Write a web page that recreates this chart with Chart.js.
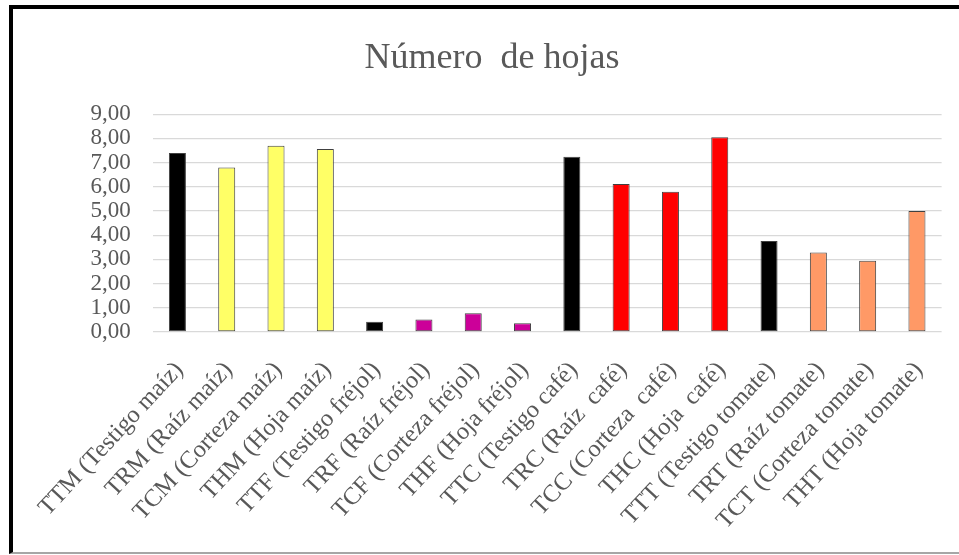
<!DOCTYPE html>
<html>
<head>
<meta charset="utf-8">
<script src="https://cdn.jsdelivr.net/npm/chart.js@4.4.1/dist/chart.umd.min.js"></script>
<style>
  html, body { margin: 0; padding: 0; background: #fff; overflow: hidden; }
  #frame {
    position: absolute; left: 9px; top: 5px;
    width: 950px; height: 543px;
    border-left: 4px solid #000; border-top: 4px solid #000;
    border-bottom: 2px solid #a6a6a6;
    background: #fff;
  }
  canvas { display: block; }
</style>
</head>
<body>
<div id="frame"><canvas id="c" width="950" height="543"></canvas></div>
<script>
// Tratamientos (categorías del eje X)
const categories = [
  "TTM (Testigo maíz)", "TRM (Raíz maíz)", "TCM (Corteza maíz)", "THM (Hoja maíz)",
  "TTF (Testigo fréjol)", "TRF (Raíz fréjol)", "TCF (Corteza fréjol)", "THF (Hoja fréjol)",
  "TTC (Testigo café)", "TRC (Raíz  café)", "TCC (Corteza  café)", "THC (Hoja  café)",
  "TTT (Testigo tomate)", "TRT (Raíz tomate)", "TCT (Corteza tomate)", "THT (Hoja tomate)"
];

// Número de hojas por tratamiento
const hojas = [7.40, 6.80, 7.70, 7.56, 0.42, 0.52, 0.77, 0.36,
               7.24, 6.12, 5.80, 8.05, 3.76, 3.28, 2.94, 5.00];

// Valores del eje Y
const yMin = 0;
const yMax = 9;
const yStep = 1;

// Color de relleno por cultivo (testigos en negro)
const fillColors = [
  "#000000", "#FFFF66", "#FFFF66", "#FFFF66",
  "#000000", "#CC0099", "#CC0099", "#CC0099",
  "#000000", "#FF0000", "#FF0000", "#FF0000",
  "#000000", "#FF9966", "#FF9966", "#FF9966"
];

const serif = "'Liberation Serif', 'Times New Roman', serif";
const textGray = "#595959";

new Chart(document.getElementById("c"), {
  type: "bar",
  data: {
    labels: categories,
    datasets: [{
      data: hojas,
      backgroundColor: fillColors,
      borderColor: "#404040",
      borderWidth: 1,
      borderSkipped: false,
      categoryPercentage: 1,
      barPercentage: 0.345
    }]
  },
  options: {
    responsive: false,
    animation: false,
    events: [],
    layout: { padding: { left: 28, right: 20, top: 0, bottom: 0 } },
    plugins: {
      legend: { display: false },
      tooltip: { enabled: false },
      title: {
        display: true,
        text: "Número  de hojas",
        color: textGray,
        font: { family: serif, size: 36, weight: "normal" },
        padding: { top: 28, bottom: 34 }
      }
    },
    scales: {
      x: {
        grid: { display: false, drawTicks: false },
        border: { display: false },
        afterFit: (s) => { s.height = 220; },
        ticks: {
          autoSkip: false,
          maxRotation: 47,
          minRotation: 47,
          padding: 24,
          labelOffset: 2,
          color: textGray,
          font: { family: serif, size: 24.5 }
        }
      },
      y: {
        min: yMin,
        max: yMax,
        grid: { color: "#d9d9d9", lineWidth: 1.3, drawTicks: false },
        border: { display: false },
        afterFit: (s) => { s.width = 109; },
        ticks: {
          stepSize: yStep,
          autoSkip: false,
          padding: 22,
          color: textGray,
          font: { family: serif, size: 23, lineHeight: 1 },
          callback: (v) => Number(v).toFixed(2).replace(".", ",")
        }
      }
    }
  }
});
</script>
</body>
</html>
